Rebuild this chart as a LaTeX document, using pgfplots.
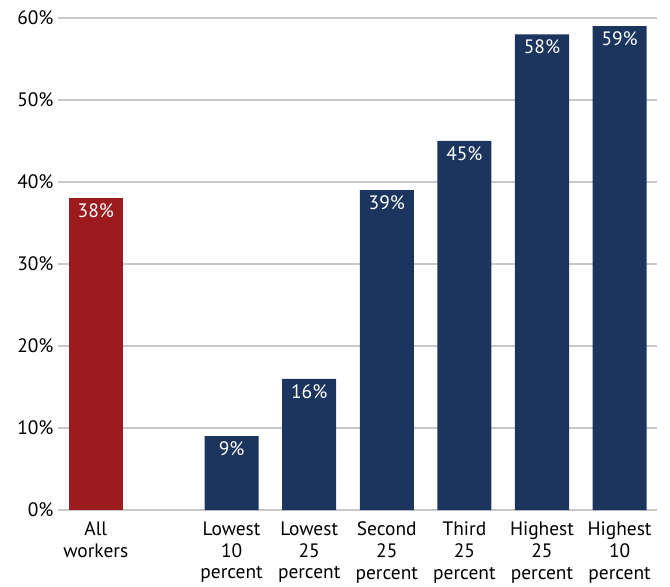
\documentclass[border=0pt]{standalone}
\usepackage{pgfplots}
\pgfplotsset{compat=1.18}
\usepackage{fontspec}
\setmainfont{PT Sans}
\definecolor{barred}{HTML}{9B1B1F}
\definecolor{barblue}{HTML}{1C355E}
\definecolor{gridgray}{HTML}{C8C8C8}

\begin{document}
\begin{tikzpicture}
\begin{axis}[
    scale only axis,
    width=599bp, height=492bp,
    ybar, bar width=54bp,
    xmin=-0.487, xmax=7.232,
    ymin=0, ymax=60,
    ytick={0,10,...,60},
    xtick={0,1.75,2.75,3.75,4.75,5.75,6.75},
    xticklabels={{All\\workers},{Lowest\\10\\percent},{Lowest\\25\\percent},{Second\\25\\percent},{Third\\25\\percent},{Highest\\25\\percent},{Highest\\10\\percent}},
    axis line style={draw=none},
    major tick length=0pt,
    ymajorgrids,
    grid style={gridgray, line width=2.6bp},
    yticklabel={\pgfmathprintnumber{\tick}\%},
    /pgf/number format/assume math mode=true,
    tick label style={font=\fontsize{19.5}{22}\selectfont},
    yticklabel style={xshift=-1bp},
    xticklabel style={align=center, anchor=north, yshift=-8bp},
    nodes near coords={\pgfmathprintnumber{\pgfplotspointmeta}\%},
    every node near coord/.append style={font=\fontsize{19.5}{21}\selectfont, text=white, anchor=north, yshift=-2bp},
    clip=false,
]
\addplot[fill=barred, draw=none, bar shift=0pt] coordinates {(0,38)};
\addplot[fill=barblue, draw=none, bar shift=0pt] coordinates {(1.75,9) (2.75,16) (3.75,39) (4.75,45) (5.75,58) (6.75,59)};
\coordinate (bl) at (rel axis cs:0,0);
\coordinate (tr) at (rel axis cs:1,1);
\end{axis}
\path ([shift={(-58bp,-77bp)}]bl) rectangle ([shift={(13bp,18bp)}]tr);
\end{tikzpicture}
\end{document}
